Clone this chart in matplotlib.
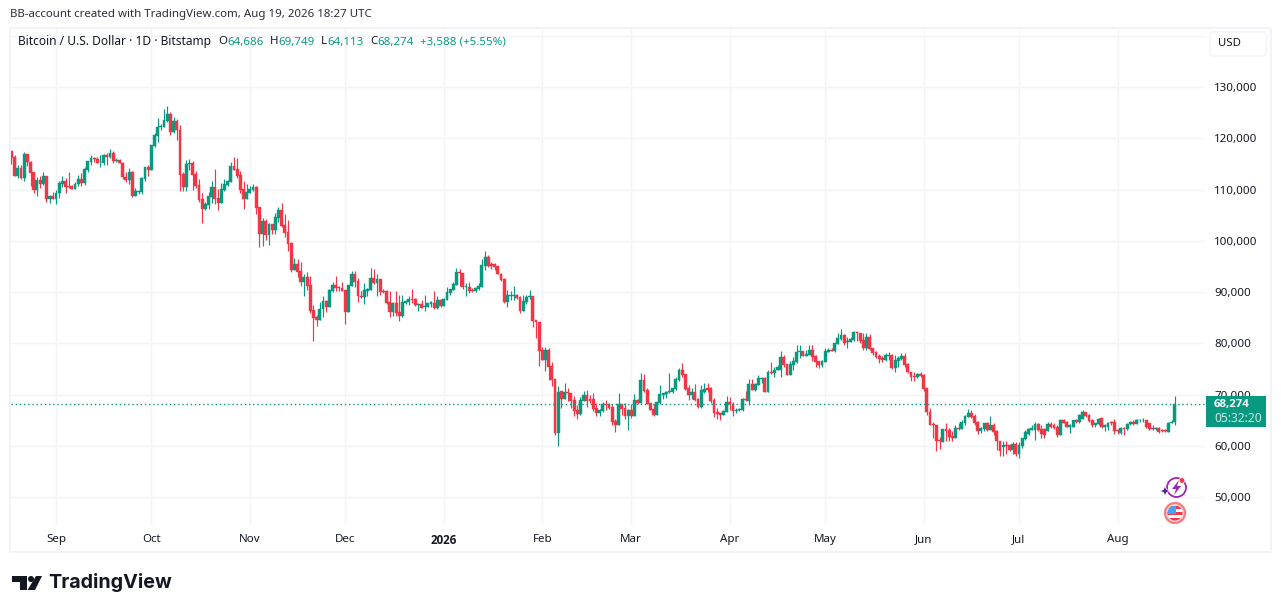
import matplotlib
matplotlib.use('Agg')
import matplotlib.pyplot as plt
import numpy as np
from matplotlib.patches import Circle, FancyBboxPatch, Polygon, Rectangle

plt.rcParams['font.family'] = ['Noto Sans', 'DejaVu Sans']

# Daily candles, USD thousands, first bar is Aug 18 2025
opens = [
    117.5,116.4,112.6,114.2,112.3,116.9,115.4,113.4,109.9,111.9,
    111.1,112.6,108.2,108.7,108.2,109.3,111.1,111.7,110.7,110.7,
    110.1,111.1,112.1,111.3,113.8,115.4,116.2,116.0,115.3,115.2,
    116.7,116.4,117.1,115.6,115.8,115.2,112.4,111.9,113.4,108.7,
    109.5,109.5,112.1,114.4,113.8,118.5,120.4,122.2,122.2,123.4,
    124.8,121.2,123.4,121.6,113.0,110.5,115.0,115.2,113.0,110.9,
    108.1,106.2,107.0,108.5,110.5,108.3,107.4,109.9,110.9,111.5,
    114.6,114.0,112.8,110.1,108.1,109.3,109.9,110.5,106.6,101.3,
    103.9,101.1,103.3,102.1,104.4,106.0,103.1,101.7,99.6,94.3,
    95.5,94.2,92.0,93.0,91.4,86.6,85.2,84.6,86.7,88.3,
    87.1,90.3,91.4,91.0,90.8,90.5,86.2,91.2,93.6,92.2,
    89.3,89.1,90.3,90.4,92.8,91.8,92.6,90.3,90.3,88.1,
    86.2,87.9,86.2,85.4,87.9,88.1,88.7,88.7,87.5,87.7,
    87.1,87.1,87.7,87.9,86.9,88.5,87.3,88.5,89.9,90.5,
    91.4,94.0,93.8,91.0,91.0,90.5,90.3,90.6,91.0,95.1,
    96.9,95.5,95.5,95.1,93.6,92.6,88.1,89.3,89.3,89.5,
    89.1,86.4,88.1,89.1,89.3,84.6,84.2,78.8,76.8,78.8,
    75.6,73.1,62.6,70.7,69.1,70.5,70.3,68.9,67.1,66.2,
    68.7,69.9,69.1,69.1,67.5,66.4,66.9,68.1,68.1,67.7,
    64.8,64.0,68.1,67.5,65.8,67.1,65.8,68.9,68.3,72.8,
    71.0,68.3,67.3,66.0,68.3,69.9,70.1,70.5,70.6,71.2,
    72.8,74.9,74.0,71.4,69.9,70.6,69.1,67.7,70.5,71.4,
    71.4,68.9,66.6,66.4,66.0,66.7,68.5,68.1,66.9,67.1,
    67.1,69.1,68.7,72.0,71.0,71.8,73.0,73.2,70.6,74.5,
    74.2,74.9,74.9,77.3,75.9,73.8,75.7,76.3,78.3,78.5,
    77.6,77.7,78.8,77.5,76.5,75.7,76.3,78.3,78.8,78.5,
    79.8,80.8,81.6,80.2,80.2,80.6,82.3,82.0,80.6,79.2,
    81.2,79.2,78.3,77.5,77.1,76.7,77.5,77.7,75.3,76.5,
    76.9,77.5,75.9,74.5,73.6,73.4,74.0,73.8,71.4,66.7,
    64.2,64.0,61.1,60.7,63.4,63.2,61.9,61.5,63.6,63.4,
    64.4,65.6,66.4,65.8,64.6,62.9,63.4,64.4,63.2,64.0,
    62.9,61.0,59.8,60.1,60.1,59.3,60.3,58.5,59.9,61.4,
    62.4,63.2,63.2,64.2,63.4,63.4,63.0,64.2,64.0,63.8,
    62.2,65.1,64.7,63.8,63.8,65.0,64.7,65.3,66.7,66.1,
    65.1,64.0,64.2,65.5,63.8,63.8,64.7,64.7,63.2,62.6,
    63.6,63.4,64.2,64.7,64.2,65.0,65.0,65.1,64.5,63.6,
    63.4,63.6,63.2,63.2,62.8,64.5,64.686,
]
closes = [
    116.2,112.6,114.2,112.3,116.9,115.3,113.2,109.9,111.9,111.1,
    112.6,108.2,108.7,108.2,109.3,111.3,111.7,110.5,110.5,110.1,
    111.1,112.1,111.3,114.0,115.6,116.2,116.0,115.2,115.4,116.7,
    116.4,117.1,115.6,115.8,115.2,112.4,111.9,113.4,108.7,109.7,
    109.7,112.3,114.4,113.8,118.7,120.7,122.2,122.4,123.6,124.8,
    121.2,123.4,121.6,112.8,110.5,115.0,115.2,112.8,110.7,107.9,
    106.2,107.2,108.7,110.5,108.1,107.4,110.1,111.1,111.7,114.6,
    113.8,112.6,109.9,108.1,109.5,110.1,110.5,106.4,101.3,103.9,
    101.1,103.3,102.1,104.6,106.0,102.9,101.5,99.4,94.3,95.5,
    94.0,92.0,93.0,91.2,86.4,85.0,84.6,86.7,88.3,87.1,
    90.4,91.4,90.8,90.8,90.3,86.2,91.4,93.6,92.0,89.3,
    89.1,90.4,90.6,92.8,91.8,92.6,90.1,90.1,87.9,86.2,
    87.9,86.0,85.4,88.1,88.3,88.7,88.5,87.5,87.7,86.9,
    87.3,87.9,88.0,86.9,88.5,87.3,88.7,90.1,90.6,91.6,
    94.0,93.8,91.0,91.2,90.3,90.3,90.8,91.2,95.3,96.9,
    95.1,95.1,94.9,93.6,92.4,88.1,89.5,89.5,89.5,88.9,
    86.4,88.3,89.1,89.3,84.4,84.2,78.6,76.8,78.8,75.4,
    72.9,62.6,70.6,69.1,70.5,70.3,68.7,66.9,66.2,68.9,
    69.9,68.7,68.7,67.3,66.4,67.1,68.1,67.9,67.5,64.6,
    64.0,68.1,67.3,65.8,67.1,65.8,68.9,68.3,72.8,70.8,
    68.1,67.1,66.0,68.5,70.1,70.3,70.6,70.8,71.4,73.0,
    74.9,73.8,71.2,69.9,70.6,68.9,67.7,71.0,71.2,71.0,
    68.7,66.4,66.2,66.0,66.9,68.5,68.1,66.9,67.1,67.3,
    69.1,68.9,72.0,71.0,72.0,73.2,73.2,70.6,74.5,74.2,
    74.9,75.5,77.3,75.7,73.8,75.9,76.5,78.3,78.5,77.5,
    77.9,78.8,77.3,76.3,75.7,76.5,78.5,78.8,78.6,80.0,
    81.0,81.6,80.0,80.4,80.8,82.3,82.0,80.4,79.2,81.2,
    79.0,78.1,77.3,76.9,76.7,77.7,77.7,75.3,76.7,77.1,
    77.5,75.7,74.4,73.4,73.4,74.0,73.6,71.2,66.6,64.0,
    64.0,60.9,60.9,63.4,63.0,61.7,61.5,63.6,63.4,64.6,
    65.8,66.4,65.6,64.4,62.9,63.6,64.4,63.2,64.0,62.7,
    60.9,59.1,60.1,59.9,59.3,60.3,58.5,60.1,61.6,62.8,
    63.4,63.6,64.2,63.2,62.4,62.2,64.2,63.8,63.6,62.2,
    65.1,64.5,63.8,64.0,65.0,64.7,66.1,66.7,65.9,64.9,
    64.0,64.4,65.3,63.8,64.0,64.4,64.5,63.0,63.0,63.6,
    63.4,64.2,64.7,64.2,65.1,65.1,65.1,63.8,63.4,63.4,
    63.6,62.8,63.0,63.0,64.5,64.7,68.274,
]
highs = [
    117.5,116.7,114.8,114.8,117.3,116.9,115.6,113.5,112.4,112.6,
    113.4,112.6,109.0,109.5,109.9,111.7,112.6,112.3,113.4,110.9,
    111.5,112.8,113.2,114.4,115.6,116.7,116.4,116.4,116.7,116.9,
    117.1,117.9,117.5,116.2,116.0,115.4,113.4,114.2,113.6,110.3,
    109.7,112.5,114.4,114.8,118.7,121.0,124.0,122.8,125.7,126.3,
    125.1,124.2,123.8,122.6,113.4,115.8,116.0,115.6,113.6,112.1,
    109.3,107.6,109.5,111.7,114.0,110.1,111.3,112.1,111.9,115.4,
    116.4,116.2,113.6,111.7,111.1,110.7,111.1,110.7,106.6,104.4,
    104.3,103.5,103.3,105.4,106.6,107.4,105.2,104.0,99.8,96.7,
    96.5,95.9,93.6,94.0,93.2,87.5,85.6,88.1,89.3,88.5,
    90.6,92.0,93.2,91.2,92.0,90.5,91.4,94.2,94.2,92.8,
    90.3,91.8,90.8,94.7,94.5,93.6,92.6,90.6,90.5,90.3,
    88.1,90.3,89.5,89.5,88.5,89.3,90.6,88.9,87.9,88.5,
    89.5,87.9,88.3,90.3,89.3,88.7,88.9,91.0,90.6,92.0,
    94.7,94.5,93.8,91.8,92.0,90.8,91.0,91.8,96.5,98.1,
    97.3,95.9,95.7,95.1,93.8,92.8,90.5,90.3,91.2,89.7,
    89.3,89.5,89.5,90.5,89.3,84.6,84.2,79.3,79.3,79.1,
    76.4,73.1,71.7,70.7,72.2,71.4,70.3,69.7,67.9,69.5,
    70.7,71.0,69.9,70.3,68.4,67.3,68.5,68.9,68.3,68.1,
    65.2,70.3,68.1,68.4,67.3,68.1,70.1,69.1,74.2,74.0,
    71.4,68.3,68.1,68.5,71.8,70.3,70.8,74.2,71.4,73.5,
    75.3,76.1,74.0,71.8,71.4,72.0,69.4,71.8,72.2,72.2,
    71.6,69.3,67.5,66.4,67.1,69.7,69.5,68.5,67.5,67.5,
    69.3,70.7,73.0,73.0,72.2,73.8,73.4,73.4,74.9,76.3,
    75.5,75.7,78.5,77.7,75.9,76.5,77.3,79.6,79.6,78.6,
    78.8,79.6,79.6,77.7,76.5,76.7,79.2,79.2,79.2,80.0,
    82.0,82.9,81.8,81.2,81.2,82.5,82.5,82.0,82.0,82.0,
    81.8,79.2,78.6,77.9,77.5,78.1,78.3,77.9,77.7,77.5,
    78.1,78.1,76.1,74.5,74.5,74.2,74.4,74.0,71.4,67.5,
    64.6,64.0,61.7,63.4,64.4,63.6,63.0,64.0,64.4,65.0,
    66.0,67.3,67.1,66.2,64.8,63.8,64.4,64.6,65.8,64.4,
    63.2,61.0,60.9,60.9,60.3,60.8,60.7,60.8,61.6,63.2,
    63.6,64.0,64.7,64.5,64.0,63.6,64.7,64.7,64.5,64.0,
    65.3,65.3,64.9,64.2,65.1,65.3,66.3,67.1,66.7,66.3,
    65.3,64.5,65.5,65.7,64.2,64.7,64.9,65.3,63.4,63.8,
    63.8,64.4,64.9,65.1,65.3,65.3,65.5,65.1,64.5,64.0,
    63.8,63.8,63.4,63.4,64.7,65.1,69.749,
]
lows = [
    114.9,112.6,112.3,112.1,111.7,114.7,110.7,109.4,108.7,110.3,
    110.9,107.6,107.4,108.2,107.2,108.3,110.5,109.3,110.3,110.1,
    110.1,110.7,110.7,110.9,113.4,114.8,115.3,115.2,114.4,114.8,
    114.8,116.2,115.2,115.4,115.2,112.0,111.5,111.1,108.5,108.7,
    109.1,109.1,111.7,112.6,113.8,118.3,119.3,121.6,122.2,123.2,
    120.6,121.0,119.7,109.7,109.7,109.7,113.8,109.9,110.3,107.6,
    103.5,106.0,106.2,107.4,107.2,106.0,107.4,109.7,110.7,111.5,
    113.8,112.3,109.3,106.2,108.1,109.3,109.7,105.2,98.8,99.0,
    100.1,99.2,101.3,101.3,103.7,102.7,100.7,98.0,93.9,94.3,
    93.0,91.2,89.3,90.5,86.0,80.5,83.4,84.6,85.2,86.2,
    87.1,90.1,90.3,90.3,90.3,83.8,86.2,91.2,91.0,88.1,
    88.9,87.7,89.3,90.4,91.6,89.3,89.5,89.9,87.7,85.2,
    85.4,85.4,84.4,85.2,87.7,87.5,87.9,87.3,86.4,86.9,
    86.4,87.1,87.1,86.7,86.7,87.1,87.3,88.5,89.5,90.5,
    91.4,91.2,90.6,89.3,89.9,90.1,90.1,90.5,91.0,94.4,
    94.9,94.5,94.4,93.6,92.2,87.9,87.1,88.5,88.5,88.7,
    86.0,86.4,87.7,88.7,83.2,81.1,75.6,76.8,74.7,72.9,
    71.7,62.2,60.0,67.5,69.1,68.7,67.5,65.8,65.2,66.0,
    68.7,67.7,68.3,66.8,65.8,65.8,66.7,67.1,67.3,64.0,
    62.7,64.0,66.0,65.2,63.2,65.5,65.8,68.1,68.3,70.6,
    68.1,67.0,65.8,66.0,68.1,69.1,69.3,70.3,70.3,71.0,
    72.6,73.5,71.0,68.9,69.1,68.7,67.5,67.5,70.3,70.5,
    68.3,65.6,65.2,65.0,66.0,66.6,67.1,65.8,66.4,66.9,
    66.9,68.7,67.9,71.0,70.8,71.8,72.2,70.6,70.6,74.0,
    73.4,74.9,73.4,75.5,73.8,73.8,74.9,76.1,77.1,77.5,
    77.6,77.7,76.5,75.5,75.3,75.5,76.3,78.3,78.5,78.3,
    79.8,80.7,79.6,79.2,80.2,80.4,80.4,80.0,78.8,78.8,
    78.8,77.7,77.1,76.1,76.3,76.5,76.7,75.1,74.4,75.5,
    76.7,75.5,74.2,72.6,72.6,73.2,73.4,70.7,66.0,64.0,
    61.5,59.1,59.5,60.7,60.9,60.9,60.9,61.5,63.2,63.4,
    64.0,65.6,65.4,64.0,62.3,62.5,63.0,63.0,63.2,62.1,
    59.2,58.1,58.1,58.5,59.1,58.5,58.1,57.7,59.7,61.2,
    62.2,63.2,61.2,63.0,61.6,61.6,63.0,63.6,63.4,61.8,
    62.2,64.5,63.8,62.6,63.8,64.5,64.5,65.3,65.7,64.7,
    63.8,63.8,64.0,63.6,63.0,63.2,64.0,62.4,62.4,62.4,
    62.2,63.2,64.0,64.0,64.2,64.7,64.7,63.6,63.2,63.2,
    63.2,62.6,62.8,62.8,62.8,64.4,64.113,
]

month_ticks = [14, 44, 75, 105, 136, 167, 195, 226, 256, 287, 317, 348]
month_labels = ['Sep', 'Oct', 'Nov', 'Dec', '2026', 'Feb', 'Mar', 'Apr', 'May', 'Jun', 'Jul', 'Aug']
price_ticks = [50000, 60000, 70000, 80000, 90000, 100000, 110000, 120000, 130000]
grid_prices = price_ticks + [140000]

GREEN = '#089981'
RED = '#F23645'
GRID = '#F2F4F7'
TEXT = '#131722'
W, H = 1281, 613

o = np.array(opens) * 1000
c = np.array(closes) * 1000
h = np.array(highs) * 1000
l = np.array(lows) * 1000
x = np.arange(len(o))
colors = [GREEN if cl >= op else RED for op, cl in zip(o, c)]

fig = plt.figure(figsize=(W / 100, H / 100), dpi=100, facecolor='white')

# price pane, pixel box 11..1205 x 28..525
ax = fig.add_axes([11 / W, 1 - 525 / H, (1205 - 11) / W, (525 - 28) / H])
ax.set_xlim(-0.157, 375.5)
ax.set_ylim(44590, 141520)
for s in ax.spines.values():
    s.set_visible(False)

ax.set_xticks(month_ticks)
ax.set_xticklabels(month_labels, fontsize=8.3, color=TEXT)
ax.tick_params(axis='x', length=0, pad=6.4)
ax.yaxis.tick_right()
ax.set_yticks(price_ticks)
ax.set_yticklabels(['{:,}'.format(p) for p in price_ticks], fontsize=8.3, color=TEXT)
ax.tick_params(axis='y', length=0, pad=6.8)
year_label = ax.get_xticklabels()[4]
year_label.set_fontfamily('Open Sans')
year_label.set_fontweight('bold')

for p in grid_prices:
    ax.axhline(p, color=GRID, lw=1, zorder=0)
for m in month_ticks:
    ax.axvline(m, color=GRID, lw=1, zorder=0)

# candles
ax.vlines(x, l, h, colors=colors, lw=0.85, zorder=2)
ax.bar(x, np.abs(c - o), bottom=np.minimum(o, c), width=0.9, color=colors,
       edgecolor=colors, linewidth=0.3, zorder=3)
ax.axhline(c[-1], color=GREEN, lw=1.0, linestyle=(0, (1, 2)), zorder=4)

# overlay in pixel coordinates for frame, header and logo
ov = fig.add_axes([0, 0, 1, 1], zorder=5)
ov.set_xlim(0, W)
ov.set_ylim(H, 0)
ov.axis('off')
ov.patch.set_alpha(0)

ov.add_patch(Rectangle((10, 27.5), 1260.5, 524.5, fill=False, ec='#F0F3FA', lw=1.4))
ov.add_patch(FancyBboxPatch((1210, 32), 56, 24, boxstyle='round,pad=0,rounding_size=3',
                            fc='white', ec='#F0F3FA', lw=1))
ov.text(1218, 44, 'USD', fontsize=8.2, color=TEXT, va='center')

ov.text(10, 15, 'BB-account created with TradingView.com, Aug 19, 2026 18:27 UTC',
        fontsize=8.27, color='#2A2E39', va='center')
ov.text(18, 42, 'Bitcoin / U.S. Dollar · 1D · Bitstamp', fontsize=8.6, color=TEXT, va='center')
for tx, label in [(218, 'O'), (270, 'H'), (321, 'L'), (370, 'C')]:
    ov.text(tx, 42, label, fontsize=8.2, color=TEXT, va='center')
for tx, label in [(227, '64,686'), (278, '69,749'), (327, '64,113'), (377, '68,274'),
                  (420, '+3,588 (+5.55%)')]:
    ov.text(tx, 42, label, fontsize=8.3, color=GREEN, va='center')

# last price tag
ov.add_patch(Rectangle((1206, 396), 60, 31, fc=GREEN, ec='none'))
ov.text(1214, 404, '68,274', fontsize=8.2, color='white', fontweight='bold',
        family='Open Sans', va='center')
ov.text(1214, 418, '05:32:20', fontsize=8.6, color='#CFEAE4', va='center')

# TradingView logo
logo = '#131722'
ov.add_patch(Polygon([(12, 576), (27, 576), (27, 590), (19.5, 590), (19.5, 582), (12, 582)], fc=logo, ec='none'))
ov.add_patch(Circle((31, 579), 3, fc=logo, ec='none'))
ov.add_patch(Polygon([(36, 576), (42, 576), (35, 590), (27.5, 590)], fc=logo, ec='none'))
ov.text(48.5, 582.5, 'TradingView', fontsize=14.2, fontweight='bold', family='Inter', color=logo, va='center')

# the two small round icons near the last bar
ov.add_patch(Circle((1176.5, 487.5), 9.5, fill=False, ec='#9C27B0', lw=1.3))
ov.add_patch(Polygon([(1179, 480), (1172, 489), (1176, 489), (1174, 495), (1181, 486), (1177, 486)], fc='#9C27B0', ec='none'))
ov.add_patch(Polygon([(1165, 486), (1166.5, 489.5), (1170, 491), (1166.5, 492.5), (1165, 496),
                      (1163.5, 492.5), (1160, 491), (1163.5, 489.5)], fc='#4A1FA0', ec='white', lw=0.5))
ov.add_patch(Circle((1182, 480.5), 2.8, fc=RED, ec='white', lw=0.5))
ov.add_patch(Circle((1175, 513), 10, fc='#FBD5D8', ec='#F77C80', lw=1.6))
flag = Circle((1175, 513), 7.5, transform=ov.transData)
for j, col in enumerate([RED, 'white', RED, 'white', RED]):
    r = Rectangle((1167, 506 + j * 3), 16, 3, fc=col, ec='none')
    ov.add_patch(r)
    r.set_clip_path(flag)
r = Rectangle((1167, 506), 9, 8, fc='#42A5F5', ec='none')
ov.add_patch(r)
r.set_clip_path(flag)

fig.savefig('out.png', dpi=100, facecolor='white')
